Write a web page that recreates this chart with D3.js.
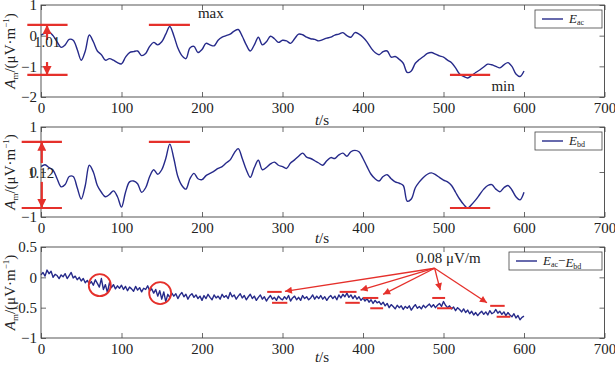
<!DOCTYPE html>
<html>
<head>
<meta charset="utf-8">
<script src="https://cdn.jsdelivr.net/npm/d3@7"></script>
<style>
body { margin: 0; background: #fff; }
svg { display: block; font-family: "Liberation Serif", "DejaVu Serif", serif; }
</style>
</head>
<body>
<svg id="chart" width="615" height="368"></svg>
<script>
// sampling steps of the records, seconds
var dt = 5;
var dtDiff = 2.5;
var xTicks = [0, 100, 200, 300, 400, 500, 600, 700];

// E_ac, read every 5 s from 0 to 600 s
var eAc = [0.02, 0.08, 0.12, 0.0, -0.2, -0.38, -0.3, -0.12, -0.15, -0.45,
  -0.8, -0.5, 0.02, -0.2, -0.5, -0.62, -0.8, -0.75, -0.8, -0.88,
  -0.92, -0.7, -0.55, -0.52, -0.5, -0.65, -0.58, -0.35, -0.22, -0.3,
  -0.2, 0.05, 0.3, 0.0, -0.4, -0.65, -0.75, -0.4, -0.35, -0.55,
  -0.45, -0.25, -0.3, -0.33, -0.15, -0.05, 0.0, 0.05, 0.15, 0.2,
  -0.02, -0.3, -0.5, -0.3, -0.05, -0.3, -0.2, -0.02, -0.1, -0.22,
  -0.15, -0.17, -0.25, -0.1, 0.05, 0.03, -0.05, -0.1, -0.12, -0.17,
  -0.13, -0.08, -0.05, 0.02, 0.05, 0.1, 0.0, -0.05, 0.1, 0.05,
  -0.05, -0.2, -0.4, -0.55, -0.62, -0.52, -0.5, -0.7, -0.68, -0.77,
  -0.9, -1.2, -1.15, -0.9, -0.78, -0.68, -0.58, -0.55, -0.6, -0.66,
  -0.7, -0.8, -0.88, -1.05, -1.25, -1.33, -1.38, -1.3, -1.2, -1.12,
  -1.02, -0.93, -0.95, -1.0, -1.05, -0.95, -0.88, -1.0, -1.25, -1.33,
  -1.15];

// E_bd
var eBd = [0.12, 0.16, 0.1, 0.04, -0.15, -0.33, -0.28, -0.1, -0.1, -0.35,
  -0.6, -0.3, 0.15, 0.0, -0.3, -0.45, -0.55, -0.5, -0.42, -0.55,
  -0.78, -0.45, -0.22, -0.2, -0.26, -0.45, -0.35, -0.1, 0.05, -0.05,
  0.05, 0.3, 0.62, 0.3, -0.1, -0.3, -0.38, -0.15, -0.03, -0.15,
  -0.17, -0.08, -0.03, 0.02, 0.08, 0.12, 0.2, 0.27, 0.42, 0.52,
  0.3, 0.05, -0.12, 0.1, 0.26, 0.05, 0.1, 0.18, 0.22, 0.15,
  0.12, 0.08, 0.2, 0.27, 0.35, 0.42, 0.33, 0.3, 0.25, 0.2,
  0.15, 0.25, 0.32, 0.3, 0.38, 0.42, 0.35, 0.45, 0.48, 0.45,
  0.3, 0.12, -0.05, -0.15, -0.2, -0.1, -0.06, -0.15, -0.22, -0.25,
  -0.3, -0.65, -0.6, -0.35, -0.22, -0.12, -0.05, -0.02, -0.06, -0.12,
  -0.18, -0.22, -0.3, -0.45, -0.6, -0.72, -0.8, -0.72, -0.62, -0.5,
  -0.38, -0.3, -0.28, -0.38, -0.44, -0.35, -0.3, -0.4, -0.55, -0.62,
  -0.45];

// E_ac - E_bd, read every 2.5 s
var eDiff = [
  0.04, 0.08, 0.02, 0.12, 0.06, 0.1, 0.0, 0.05, 0.03, -0.02, 0.04, 0.01, 0.06, -0.02, 0.03, 0.08, -0.01, 0.02, -0.04, 0.0,
  -0.06, -0.02, -0.09, -0.05, -0.11, -0.07, -0.13, -0.04, -0.1, -0.16, -0.02, -0.2, -0.12, -0.25, -0.09, -0.17, -0.12, -0.19, -0.14, -0.18,
  -0.13, -0.2, -0.15, -0.22, -0.16, -0.19, -0.23, -0.15, -0.21, -0.17, -0.24, -0.18, -0.2, -0.14, -0.22, -0.19, -0.26, -0.2, -0.31, -0.22,
  -0.36, -0.24, -0.4, -0.28, -0.33, -0.26, -0.31, -0.27, -0.35, -0.29, -0.25, -0.32, -0.28, -0.36, -0.3, -0.27, -0.33, -0.29, -0.35, -0.31,
  -0.38, -0.3, -0.35, -0.28, -0.33, -0.37, -0.29, -0.34, -0.31, -0.36, -0.28, -0.33, -0.3, -0.35, -0.25, -0.32, -0.29, -0.36, -0.31, -0.27,
  -0.34, -0.3, -0.37, -0.32, -0.28, -0.35, -0.31, -0.38, -0.33, -0.29, -0.36, -0.32, -0.39, -0.34, -0.3, -0.36, -0.33, -0.38, -0.31, -0.35,
  -0.37, -0.32, -0.36, -0.3, -0.39, -0.34, -0.31, -0.37, -0.33, -0.38, -0.3, -0.35, -0.32, -0.37, -0.34, -0.29, -0.36, -0.31, -0.35, -0.3,
  -0.36, -0.32, -0.38, -0.33, -0.3, -0.35, -0.31, -0.37, -0.29, -0.34, -0.28, -0.32, -0.26, -0.33, -0.29, -0.35, -0.3, -0.36, -0.32, -0.38,
  -0.34, -0.39, -0.35, -0.41, -0.37, -0.43, -0.38, -0.42, -0.4, -0.45, -0.41, -0.47, -0.43, -0.5, -0.45, -0.48, -0.52, -0.46, -0.5, -0.47,
  -0.53, -0.48, -0.51, -0.47, -0.54, -0.49, -0.45, -0.51, -0.48, -0.52, -0.46, -0.5, -0.47, -0.44, -0.49, -0.45, -0.5, -0.46, -0.43, -0.48,
  -0.4, -0.46, -0.5, -0.47, -0.52, -0.49, -0.55, -0.5, -0.53, -0.57, -0.52, -0.58, -0.54, -0.6, -0.56, -0.62, -0.58, -0.63, -0.59, -0.56,
  -0.61, -0.57, -0.62, -0.55, -0.6, -0.58, -0.53, -0.59, -0.56, -0.61, -0.57, -0.63, -0.58, -0.62, -0.65, -0.6, -0.67, -0.63, -0.7, -0.66,
  -0.64];

// annotations (data units)
var rangeAc = { top: 0.35, bottom: -1.28, label: "1.01" };
var rangeBd = { top: 0.67, bottom: -0.8, label: "1.12" };
var circlesDiff = [[73, -0.13], [148, -0.26]];
var barsDiff = [
  [[281, 299, -0.24], [287, 306, -0.42]],
  [[371, 392, -0.24], [378, 396, -0.42]],
  [[400, 419, -0.34], [409, 425, -0.51]],
  [[486, 502, -0.34], [492, 511, -0.51]],
  [[558, 576, -0.47], [566, 583, -0.65]]
];
var arrowTips = [[303, -0.23], [397, -0.21], [425, -0.28], [496, -0.21], [554, -0.42]];

var navy = "#262a8a", red = "#e5302b";
var svg = d3.select("#chart");

var defs = svg.append("defs");
function marker(id, w, h) {
  defs.append("marker").attr("id", id)
    .attr("viewBox", "0 0 10 10").attr("refX", 10).attr("refY", 5)
    .attr("markerUnits", "userSpaceOnUse")
    .attr("markerWidth", w).attr("markerHeight", h)
    .attr("orient", "auto")
    .append("path").attr("d", "M0,0L10,5L0,10z").attr("fill", red);
}
marker("bigHead", 11, 9);
marker("smallHead", 9, 7);

var x = d3.scaleLinear().domain([0, 700]).range([41, 604.5]);

var panels = [
  { values: eAc, step: dt, curve: d3.curveCatmullRom, domain: [-2, 1], range: [97, 5], ticks: [-2, -1, 0, 1], legend: [["E", "ac"]], legendX: 535, titleGap: 28 },
  { values: eBd, step: dt, curve: d3.curveCatmullRom, domain: [-1, 1], range: [217, 127], ticks: [-1, 0, 1], legend: [["E", "bd"]], legendX: 535, titleGap: 26 },
  { values: eDiff, step: dtDiff, curve: d3.curveLinear, domain: [-1, 0.5], range: [338, 247], ticks: [-1, -0.5, 0, 0.5], legend: [["E", "ac"], ["E", "bd"]], legendX: 509, titleGap: 24 }
];

panels.forEach(function(p) {
  var y = d3.scaleLinear().domain(p.domain).range(p.range);
  p.y = y;
  var top = p.range[1], bot = p.range[0];
  var g = svg.append("g");

  // data line
  g.append("path")
    .datum(p.values)
    .attr("fill", "none")
    .attr("stroke", navy)
    .attr("stroke-width", 1.4)
    .attr("stroke-linejoin", "round")
    .attr("d", d3.line().curve(p.curve)
      .x(function(d, i) { return x(i * p.step); })
      .y(function(d) { return y(d); }));

  // axes, ticks pointing inward
  var fmt = d3.format("");
  g.append("g").attr("transform", "translate(0," + bot + ")")
    .call(d3.axisBottom(x).tickValues(xTicks).tickSize(-5).tickPadding(5).tickFormat(fmt));
  g.append("g").attr("transform", "translate(0," + top + ")")
    .call(d3.axisTop(x).tickValues(xTicks).tickSize(-5).tickFormat(""));
  g.append("g").attr("transform", "translate(" + x(0) + ",0)")
    .call(d3.axisLeft(y).tickValues(p.ticks).tickSize(-5).tickPadding(4).tickFormat(fmt));
  g.append("g").attr("transform", "translate(" + x(700) + ",0)")
    .call(d3.axisRight(y).tickValues(p.ticks).tickSize(-5).tickFormat(""));
  g.selectAll(".domain").remove();
  g.selectAll(".tick line").attr("stroke", "#444").attr("stroke-width", 0.8);
  g.selectAll(".tick text").attr("font-size", 15).attr("fill", "#222")
    .attr("font-family", "Liberation Serif, serif");

  g.append("rect").attr("x", x(0)).attr("y", top)
    .attr("width", x(700) - x(0)).attr("height", bot - top)
    .attr("fill", "none").attr("stroke", "#444").attr("stroke-width", 0.9);

  // x title
  var xt = g.append("text").attr("x", 322).attr("y", bot + p.titleGap)
    .attr("text-anchor", "middle").attr("font-size", 15).attr("fill", "#222");
  xt.append("tspan").attr("font-style", "italic").text("t");
  xt.append("tspan").text("/s");

  // y title
  var yt = g.append("text")
    .attr("transform", "translate(15," + ((top + bot) / 2) + ") rotate(-90)")
    .attr("text-anchor", "middle").attr("font-size", 15).attr("fill", "#222");
  yt.append("tspan").attr("font-style", "italic").text("A");
  yt.append("tspan").attr("font-size", 9).attr("dy", 3).text("m");
  yt.append("tspan").attr("dy", -3).text("/(\u03bcV\u00b7m");
  yt.append("tspan").attr("font-size", 9).attr("dy", -6).text("\u22121");
  yt.append("tspan").attr("dy", 6).text(")");

  // legend
  var lx = p.legendX, ly = top + 5;
  g.append("rect").attr("x", lx).attr("y", ly).attr("width", 602 - lx).attr("height", 18)
    .attr("fill", "#fff").attr("stroke", "#444").attr("stroke-width", 0.8);
  g.append("line").attr("x1", lx + 7).attr("x2", lx + 28).attr("y1", ly + 9).attr("y2", ly + 9)
    .attr("stroke", navy).attr("stroke-width", 1.4);
  var lt = g.append("text").attr("x", lx + 34).attr("y", ly + 13).attr("font-size", 13).attr("fill", "#222");
  p.legend.forEach(function(s, j) {
    if (j > 0) lt.append("tspan").attr("dy", -2).text("\u2212");
    lt.append("tspan").attr("font-style", "italic").attr("dy", j > 0 ? 2 : 0).text(s[0]);
    lt.append("tspan").attr("font-size", 8).attr("dy", 2).text(s[1]);
    lt.append("tspan").attr("dy", -2).text("");
  });
});

// max / min bars of the first two panels
function rangeMarks(p, r, left) {
  var y = p.y;
  var g = svg.append("g").attr("stroke", red).attr("stroke-width", 2.2);
  [[left[0], left[1], r.top], [left[0], left[1], r.bottom], [134, 185, r.top], [508, 558, r.bottom]].forEach(function(b) {
    g.append("line").attr("x1", x(b[0])).attr("x2", x(b[1])).attr("y1", y(b[2])).attr("y2", y(b[2]));
  });
  return g;
}

var p1 = panels[0], p2 = panels[1], p3 = panels[2];
var a1 = rangeMarks(p1, rangeAc, [-17, 33]);
a1.append("line").attr("x1", x(7.5)).attr("x2", x(7.5)).attr("y1", p1.y(-0.14)).attr("y2", p1.y(rangeAc.top))
  .attr("marker-end", "url(#bigHead)");
a1.append("line").attr("x1", x(7.5)).attr("x2", x(7.5)).attr("y1", p1.y(-0.86)).attr("y2", p1.y(rangeAc.bottom))
  .attr("marker-end", "url(#bigHead)");
svg.append("text").attr("x", x(7.5)).attr("y", p1.y(-0.37)).attr("text-anchor", "middle")
  .attr("font-size", 15).attr("fill", "#222").text(rangeAc.label);
svg.append("text").attr("x", x(211)).attr("y", p1.y(0.58)).attr("text-anchor", "middle")
  .attr("font-size", 15).attr("fill", "#222").text("max");
svg.append("text").attr("x", x(574)).attr("y", p1.y(-1.8)).attr("text-anchor", "middle")
  .attr("font-size", 15).attr("fill", "#222").text("min");

var a2 = rangeMarks(p2, rangeBd, [-24, 26]);
a2.append("line").attr("x1", x(1)).attr("x2", x(1)).attr("y1", p2.y(0.2)).attr("y2", p2.y(rangeBd.top))
  .attr("marker-end", "url(#bigHead)");
a2.append("line").attr("x1", x(1)).attr("x2", x(1)).attr("y1", p2.y(-0.22)).attr("y2", p2.y(rangeBd.bottom))
  .attr("marker-end", "url(#bigHead)");
svg.append("text").attr("x", x(0)).attr("y", p2.y(-0.13)).attr("text-anchor", "middle")
  .attr("font-size", 15).attr("fill", "#222").text(rangeBd.label);

// third panel: circles, bars, arrows
var g3 = svg.append("g").attr("stroke", red).attr("fill", "none");
circlesDiff.forEach(function(c) {
  g3.append("circle").attr("cx", x(c[0])).attr("cy", p3.y(c[1])).attr("r", 11).attr("stroke-width", 1.8);
});
barsDiff.forEach(function(pair) {
  pair.forEach(function(b) {
    g3.append("line").attr("x1", x(b[0])).attr("x2", x(b[1])).attr("y1", p3.y(b[2])).attr("y2", p3.y(b[2]))
      .attr("stroke-width", 2);
  });
});
arrowTips.forEach(function(a) {
  g3.append("line").attr("x1", x(489)).attr("y1", p3.y(0.15)).attr("x2", x(a[0])).attr("y2", p3.y(a[1]))
    .attr("stroke-width", 1.3).attr("marker-end", "url(#smallHead)");
});
svg.append("text").attr("x", x(506)).attr("y", p3.y(0.23)).attr("text-anchor", "middle")
  .attr("font-size", 15).attr("fill", "#222").text("0.08 \u03bcV/m");
</script>
</body>
</html>
